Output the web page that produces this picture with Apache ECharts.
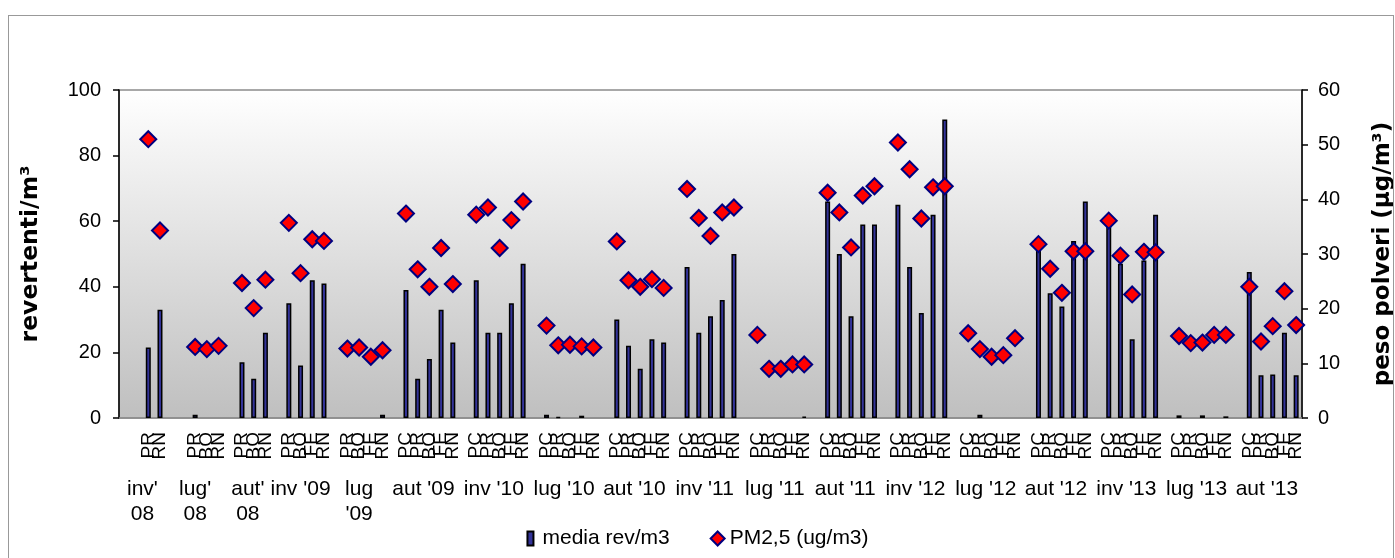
<!DOCTYPE html>
<html><head><meta charset="utf-8">
<script src="https://cdn.jsdelivr.net/npm/echarts@6/dist/echarts.min.js"></script>
<style>
html,body{margin:0;padding:0;background:#fff;}
#c{width:1395px;height:558px;position:absolute;left:0;top:0;}
#frame{position:absolute;left:8px;top:15px;width:1386px;height:560px;border:1px solid #999;box-sizing:border-box;pointer-events:none;}
</style></head><body>
<div id="c"></div><div id="frame"></div>
<script>
// Season groups (lower label row)
const groupLabels = ["inv'\n08", "lug'\n08", "aut'\n08", "inv '09", "lug\n'09", "aut '09", "inv '10", "lug '10", "aut '10",
  "inv '11", "lug '11", "aut '11", "inv '12", "lug '12", "aut '12", "inv '13", "lug '13", "aut '13"];
// Sites in each group ('' = empty spacer category)
const S5 = ["", "PC", "PR", "BO", "FE", "RN"];
const groupSites = [
  ["", "", "PR", "RN"],
  ["", "", "PR", "BO", "RN"],
  ["", "PR", "BO", "RN"],
  ["", "PR", "BO", "FE", "RN"],
  ["", "PR", "BO", "FE", "RN"],
  S5, S5, S5, S5, S5, S5, S5, S5, S5, S5, S5, S5, S5
];
// media rev/m3 (left axis)
const revValues = [
  [null, null, 21.5, 33],
  [null, null, 1, null, null],
  [null, 17, 12, 26],
  [null, 35, 16, 42, 41],
  [null, null, null, null, 1],
  [null, 39, 12, 18, 33, 23],
  [null, 42, 26, 26, 35, 47],
  [null, 1, 0.3, null, 0.7, null],
  [null, 30, 22, 15, 24, 23],
  [null, 46, 26, 31, 36, 50],
  [null, null, null, null, null, 0.4],
  [null, 66, 50, 31, 59, 59],
  [null, 65, 46, 32, 62, 91],
  [null, null, 1, null, null, null],
  [null, 53, 38, 34, 54, 66],
  [null, 60, 47, 24, 48, 62],
  [null, 0.8, null, 0.8, null, 0.5],
  [null, 44.5, 13, 13.3, 26, 13]
];
// PM2,5 (ug/m3) (right axis)
const pmValues = [
  [null, null, 51, 34.3],
  [null, null, 13, 12.6, 13.2],
  [null, 24.7, 20.1, 25.3],
  [null, 35.7, 26.5, 32.7, 32.4],
  [null, 12.7, 12.9, 11.2, 12.4],
  [null, 37.4, 27.2, 24, 31.1, 24.5],
  [null, 37.2, 38.5, 31.1, 36.2, 39.6],
  [null, 16.9, 13.3, 13.4, 13.1, 12.9],
  [null, 32.3, 25.2, 24, 25.4, 23.8],
  [null, 41.9, 36.6, 33.3, 37.6, 38.5],
  [null, 15.2, 9, 9, 9.8, 9.8],
  [null, 41.2, 37.6, 31.2, 40.7, 42.4],
  [null, 50.4, 45.5, 36.5, 42.2, 42.4],
  [null, 15.5, 12.6, 11.2, 11.5, 14.6],
  [null, 31.8, 27.3, 22.9, 30.5, 30.5],
  [null, 36.1, 29.7, 22.6, 30.4, 30.3],
  [null, 15, 13.7, 13.8, 15.2, 15.2],
  [null, 24, 14, 16.8, 23.2, 17]
];
const leftTicks = {min: 0, max: 100, step: 20};
const rightTicks = {min: 0, max: 60, step: 10};

const categories = [].concat(...groupSites);
const revData = [].concat(...revValues);
const pmData = [].concat(...pmValues);
const total = categories.length;
const centerMap = {};
let pos = 0;
groupSites.forEach((g, i) => {
  centerMap[(pos + g.length / 2).toFixed(1)] = groupLabels[i];
  pos += g.length;
});

const FONT = 'Liberation Sans, Arial, sans-serif';
const TFONT = 'DejaVu Sans, Liberation Sans, sans-serif';
const chart = echarts.init(document.getElementById('c'), null, {renderer: 'canvas'});
chart.setOption({
  animation: false,
  backgroundColor: 'transparent',
  textStyle: {fontFamily: FONT},
  grid: {
    left: 119, right: 93, top: 90, bottom: 140, outerBoundsMode: 'none',
    show: true, borderColor: '#8c8c8c', borderWidth: 1.5,
    backgroundColor: new echarts.graphic.LinearGradient(0, 0, 0, 1, [
      {offset: 0, color: '#ffffff'}, {offset: 1, color: '#bfbfbf'}
    ])
  },
  legend: {
    bottom: 4, left: 'center', itemGap: 40, itemWidth: 14, itemHeight: 14,
    textStyle: {fontSize: 21, color: '#000', fontFamily: FONT},
    data: [
      {name: 'media rev/m3', icon: 'path://M0,0h6v14h-6z'},
      {name: 'PM2,5 (ug/m3)', icon: 'diamond'}
    ]
  },
  xAxis: [
    {
      type: 'category', data: categories, position: 'bottom',
      axisLine: {show: true, lineStyle: {color: '#8c8c8c', width: 1.5}},
      axisTick: {show: false},
      axisLabel: {interval: 0, rotate: 90, margin: 14, fontSize: 19, color: '#000', fontFamily: FONT}
    },
    {
      type: 'value', position: 'bottom', min: 0, max: total, interval: 0.5,
      axisLine: {show: false}, axisTick: {show: false}, splitLine: {show: false},
      axisLabel: {
        margin: 59, fontSize: 21, lineHeight: 25, color: '#000', fontFamily: FONT,
        showMinLabel: true, showMaxLabel: true,
        formatter: v => centerMap[Number(v).toFixed(1)] || ''
      }
    }
  ],
  yAxis: [
    {
      type: 'value', min: leftTicks.min, max: leftTicks.max, interval: leftTicks.step,
      name: 'revertenti/m³', nameLocation: 'middle', nameRotate: 90, nameGap: 76,
      nameTextStyle: {fontSize: 23.5, fontWeight: 'bold', color: '#000', fontFamily: TFONT},
      axisLine: {show: true, lineStyle: {color: '#000', width: 1.5}},
      axisTick: {show: true, length: 6, lineStyle: {color: '#000', width: 1.5}},
      axisLabel: {margin: 18, fontSize: 20, color: '#000', fontFamily: FONT},
      splitLine: {show: false}
    },
    {
      type: 'value', min: rightTicks.min, max: rightTicks.max, interval: rightTicks.step,
      position: 'right',
      name: 'peso polveri (µg/m³)', nameLocation: 'middle', nameRotate: 90, nameGap: 70,
      nameTextStyle: {fontSize: 23, fontWeight: 'bold', color: '#000', fontFamily: TFONT},
      axisLine: {show: true, lineStyle: {color: '#000', width: 1.5}},
      axisTick: {show: true, length: 6, lineStyle: {color: '#000', width: 1.5}},
      axisLabel: {margin: 16, fontSize: 20, color: '#000', fontFamily: FONT},
      splitLine: {show: false}
    }
  ],
  series: [
    {
      name: 'media rev/m3', type: 'bar', xAxisIndex: 0, yAxisIndex: 0, data: revData,
      barWidth: 5,
      itemStyle: {color: '#333399', borderColor: '#000', borderWidth: 1.5}
    },
    {
      name: 'PM2,5 (ug/m3)', type: 'scatter', xAxisIndex: 0, yAxisIndex: 1, data: pmData,
      symbol: 'diamond', symbolSize: 16,
      itemStyle: {color: '#ff0000', borderColor: '#000080', borderWidth: 2, opacity: 1}
    }
  ]
});
</script></body></html>
